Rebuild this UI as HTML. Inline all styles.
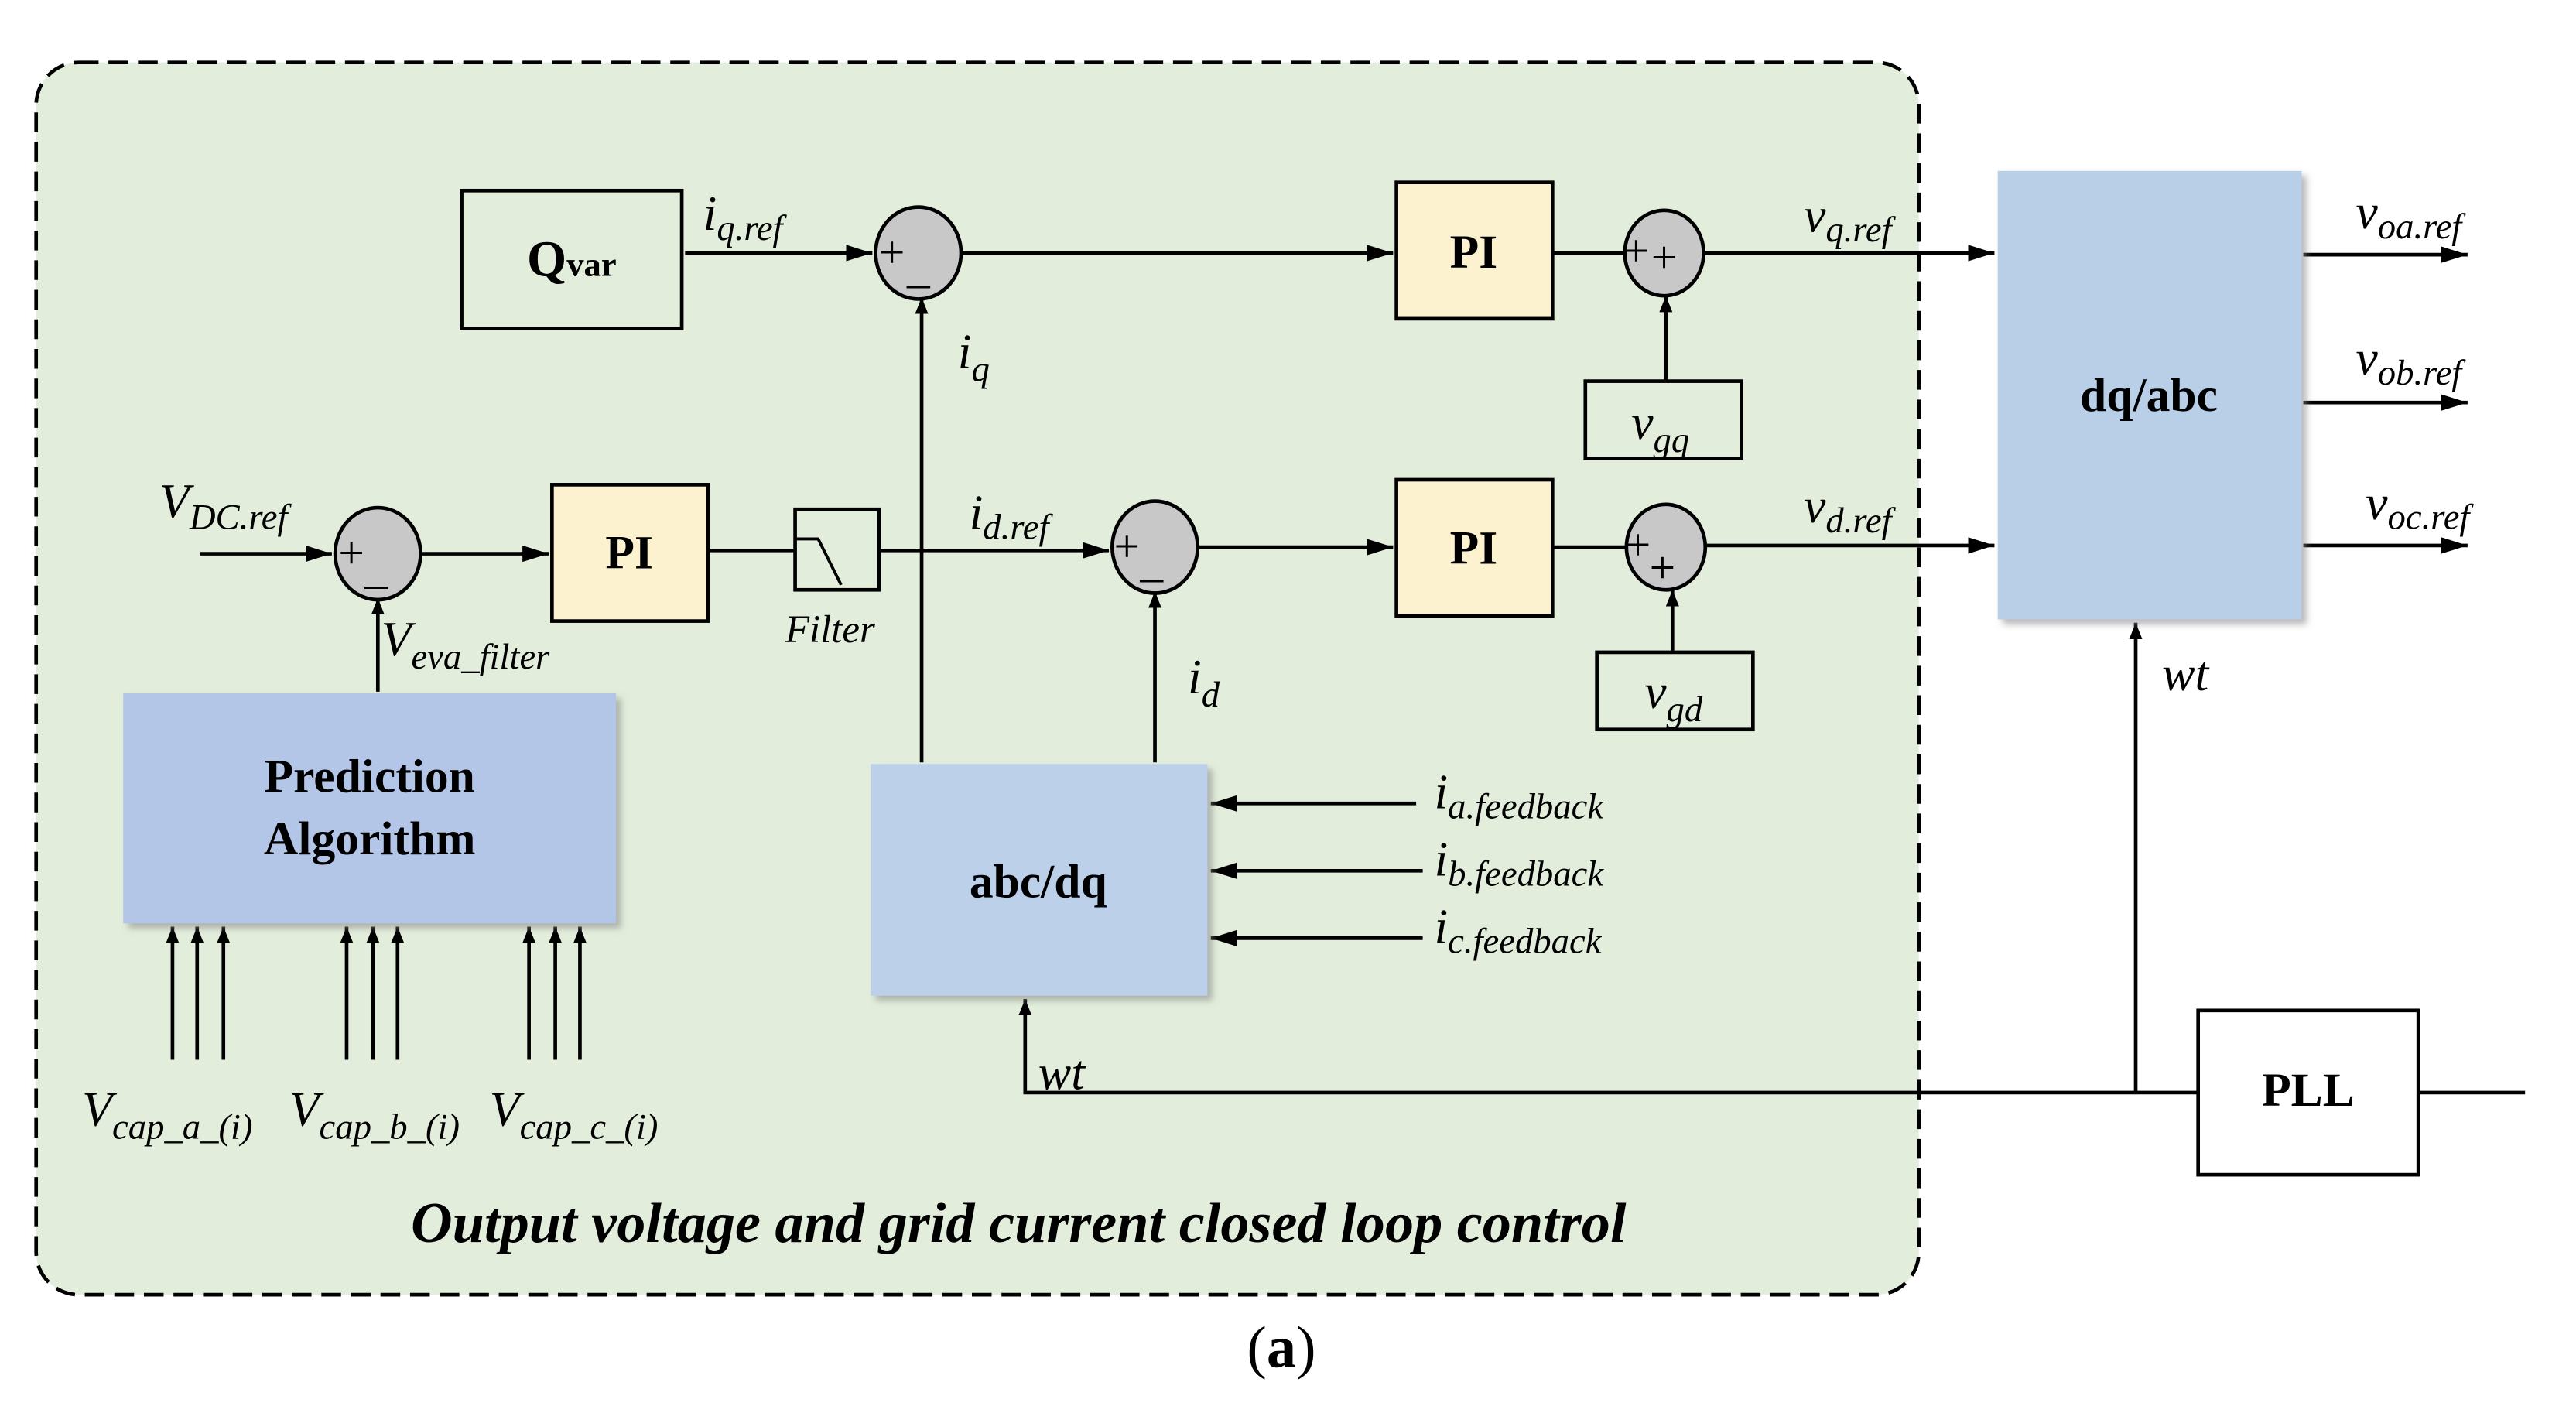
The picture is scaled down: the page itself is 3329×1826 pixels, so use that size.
<!DOCTYPE html>
<html><head><meta charset="utf-8"><style>
html,body{margin:0;padding:0;background:#fff;width:3329px;height:1826px;overflow:hidden}
svg{display:block}
text{font-family:"Liberation Serif",serif;fill:#000}
.it{font-style:italic}
.b{font-weight:bold}
</style></head><body>
<svg width="3329" height="1826" viewBox="0 0 1568 860" preserveAspectRatio="none" xmlns="http://www.w3.org/2000/svg">
<defs>
<marker id="a" markerWidth="10" markerHeight="8" refX="10" refY="4" orient="auto" markerUnits="userSpaceOnUse"><path d="M0,0 L10,4 L0,8 Z" fill="#000"/></marker>
<marker id="a2" markerWidth="16" markerHeight="10" refX="16" refY="5" orient="auto" markerUnits="userSpaceOnUse"><path d="M0,0 L16,5 L0,10 Z" fill="#000"/></marker>
<filter id="sh" x="-10%" y="-10%" width="130%" height="130%"><feDropShadow dx="3" dy="3" stdDeviation="2" flood-color="#888" flood-opacity="0.6"/></filter>
</defs>
<rect x="22" y="38" width="1146" height="750" rx="26" fill="#e2eedb" stroke="#000" stroke-width="2.2" stroke-dasharray="12,6"/>

<g stroke="#000" stroke-width="2.2" fill="none">
<line x1="417" y1="154" x2="531" y2="154" marker-end="url(#a2)"/>
<line x1="586" y1="154" x2="848" y2="154" marker-end="url(#a2)"/>
<line x1="946" y1="154" x2="989" y2="154"/>
<line x1="1038" y1="154" x2="1214" y2="154" marker-end="url(#a2)"/>
<line x1="1014" y1="231" x2="1014" y2="180" marker-end="url(#a)"/>
<line x1="122" y1="337" x2="202" y2="337" marker-end="url(#a2)"/>
<line x1="257" y1="337" x2="334" y2="337" marker-end="url(#a2)"/>
<line x1="432" y1="335" x2="484" y2="335"/>
<line x1="536" y1="335" x2="675" y2="335" marker-end="url(#a2)"/>
<line x1="730" y1="333" x2="848" y2="333" marker-end="url(#a2)"/>
<line x1="946" y1="333" x2="990" y2="333"/>
<line x1="1039" y1="332" x2="1214" y2="332" marker-end="url(#a2)"/>
<line x1="1018" y1="396" x2="1018" y2="359" marker-end="url(#a)"/>
<line x1="230" y1="421" x2="230" y2="364" marker-end="url(#a)"/>
<line x1="561" y1="464" x2="561" y2="181" marker-end="url(#a)"/>
<line x1="703" y1="464" x2="703" y2="360" marker-end="url(#a)"/>
<line x1="1402" y1="155" x2="1502" y2="155" marker-end="url(#a2)"/>
<line x1="1402" y1="245" x2="1502" y2="245" marker-end="url(#a2)"/>
<line x1="1402" y1="332" x2="1502" y2="332" marker-end="url(#a2)"/>
<line x1="862" y1="489" x2="737" y2="489" marker-end="url(#a2)"/>
<line x1="866" y1="530" x2="737" y2="530" marker-end="url(#a2)"/>
<line x1="866" y1="571" x2="737" y2="571" marker-end="url(#a2)"/>
<polyline points="1338,665 624,665 624,608" marker-end="url(#a)"/>
<line x1="1300" y1="665" x2="1300" y2="379" marker-end="url(#a)"/>
<line x1="1472" y1="665" x2="1537" y2="665"/>
<g marker-end="url(#a)">
<line x1="105" y1="645" x2="105" y2="564"/><line x1="120" y1="645" x2="120" y2="564"/><line x1="136" y1="645" x2="136" y2="564"/>
<line x1="211" y1="645" x2="211" y2="564"/><line x1="227" y1="645" x2="227" y2="564"/><line x1="242" y1="645" x2="242" y2="564"/>
<line x1="322" y1="645" x2="322" y2="564"/><line x1="338" y1="645" x2="338" y2="564"/><line x1="353" y1="645" x2="353" y2="564"/>
</g>
</g>

<g stroke="#000" stroke-width="2.2">
<rect x="281" y="116" width="134" height="84" fill="none"/>
<rect x="850" y="111" width="95" height="83" fill="#fdf2cf"/>
<rect x="336" y="295" width="95" height="83" fill="#fdf2cf"/>
<rect x="850" y="292" width="95" height="83" fill="#fdf2cf"/>
<rect x="965" y="232" width="95" height="47" fill="none"/>
<rect x="972" y="397" width="95" height="47" fill="none"/>
<rect x="484" y="310" width="51" height="49" fill="none"/>
<rect x="1338" y="615" width="134" height="100" fill="#fff"/>
<ellipse cx="559" cy="154" rx="26" ry="28" fill="#c8c8c8"/>
<ellipse cx="230" cy="337" rx="26" ry="28" fill="#c8c8c8"/>
<ellipse cx="703" cy="333" rx="26" ry="28" fill="#c8c8c8"/>
<ellipse cx="1013" cy="154" rx="24" ry="26" fill="#c8c8c8"/>
<ellipse cx="1014" cy="333" rx="24" ry="26" fill="#c8c8c8"/>
</g>
<polyline points="485,328 498,328 512,356" fill="none" stroke="#000" stroke-width="1.8"/>
<rect x="1216" y="104" width="185" height="273" fill="#b9cfe8" filter="url(#sh)"/>
<rect x="75" y="422" width="300" height="140" fill="#b3c6e7" filter="url(#sh)"/>
<rect x="530" y="465" width="205" height="141" fill="#bcd0ea" filter="url(#sh)"/>

<g font-size="28">
<text x="535" y="163">+</text><text x="552" y="172">_</text>
<text x="206" y="346">+</text><text x="222" y="355">_</text>
<text x="678" y="342">+</text><text x="694" y="351">_</text>
<text x="988" y="162">+</text><text x="1005" y="166">+</text>
<text x="989" y="341">+</text><text x="1004" y="355">+</text>
</g>

<g class="b" text-anchor="middle">
<text x="348" y="168" font-size="31">Q<tspan font-size="21">var</tspan></text>
<text x="897" y="163" font-size="29">PI</text>
<text x="383" y="346" font-size="29">PI</text>
<text x="897" y="343" font-size="29">PI</text>
<text x="1308" y="250" font-size="29">dq/abc</text>
<text x="225" y="482" font-size="29">Prediction</text>
<text x="225" y="520" font-size="29">Algorithm</text>
<text x="632" y="546" font-size="29">abc/dq</text>
<text x="1405" y="673" font-size="29">PLL</text>
</g>

<g class="it" font-size="30">
<text x="428" y="140">i<tspan font-size="22" dy="6">q.ref</tspan></text>
<text x="583" y="224">i<tspan font-size="22" dy="8">q</tspan></text>
<text x="1098" y="141">v<tspan font-size="22" dy="6">q.ref</tspan></text>
<text x="993" y="267">v<tspan font-size="22" dy="8">gq</tspan></text>
<text x="1001" y="431">v<tspan font-size="22" dy="8">gd</tspan></text>
<text x="1098" y="318">v<tspan font-size="22" dy="6">d.ref</tspan></text>
<text x="590" y="322">i<tspan font-size="22" dy="6">d.ref</tspan></text>
<text x="723" y="422">i<tspan font-size="22" dy="8">d</tspan></text>
<text x="97" y="315">V<tspan font-size="22" dy="7">DC.ref</tspan></text>
<text x="232" y="399">V<tspan font-size="22" dy="8">eva_filter</tspan></text>
<text x="478" y="391" font-size="24">Filter</text>
<text x="1434" y="139">v<tspan font-size="22" dy="6">oa.ref</tspan></text>
<text x="1434" y="228">v<tspan font-size="22" dy="6">ob.ref</tspan></text>
<text x="1440" y="316">v<tspan font-size="22" dy="6">oc.ref</tspan></text>
<text x="873" y="492">i<tspan font-size="22" dy="6">a.feedback</tspan></text>
<text x="873" y="533">i<tspan font-size="22" dy="6">b.feedback</tspan></text>
<text x="873" y="574">i<tspan font-size="22" dy="6">c.feedback</tspan></text>
<text x="1316" y="420">wt</text>
<text x="632" y="663">wt</text>
<text x="50" y="685">V<tspan font-size="22" dy="8">cap_a_(i)</tspan></text>
<text x="176" y="685">V<tspan font-size="22" dy="8">cap_b_(i)</tspan></text>
<text x="298" y="685">V<tspan font-size="22" dy="8">cap_c_(i)</tspan></text>
</g>
<text x="620" y="756" class="it b" font-size="35" text-anchor="middle">Output voltage and grid current closed loop control</text>
<text x="780" y="832" font-size="36" text-anchor="middle">(<tspan font-weight="bold">a</tspan>)</text>
</svg>
</body></html>
